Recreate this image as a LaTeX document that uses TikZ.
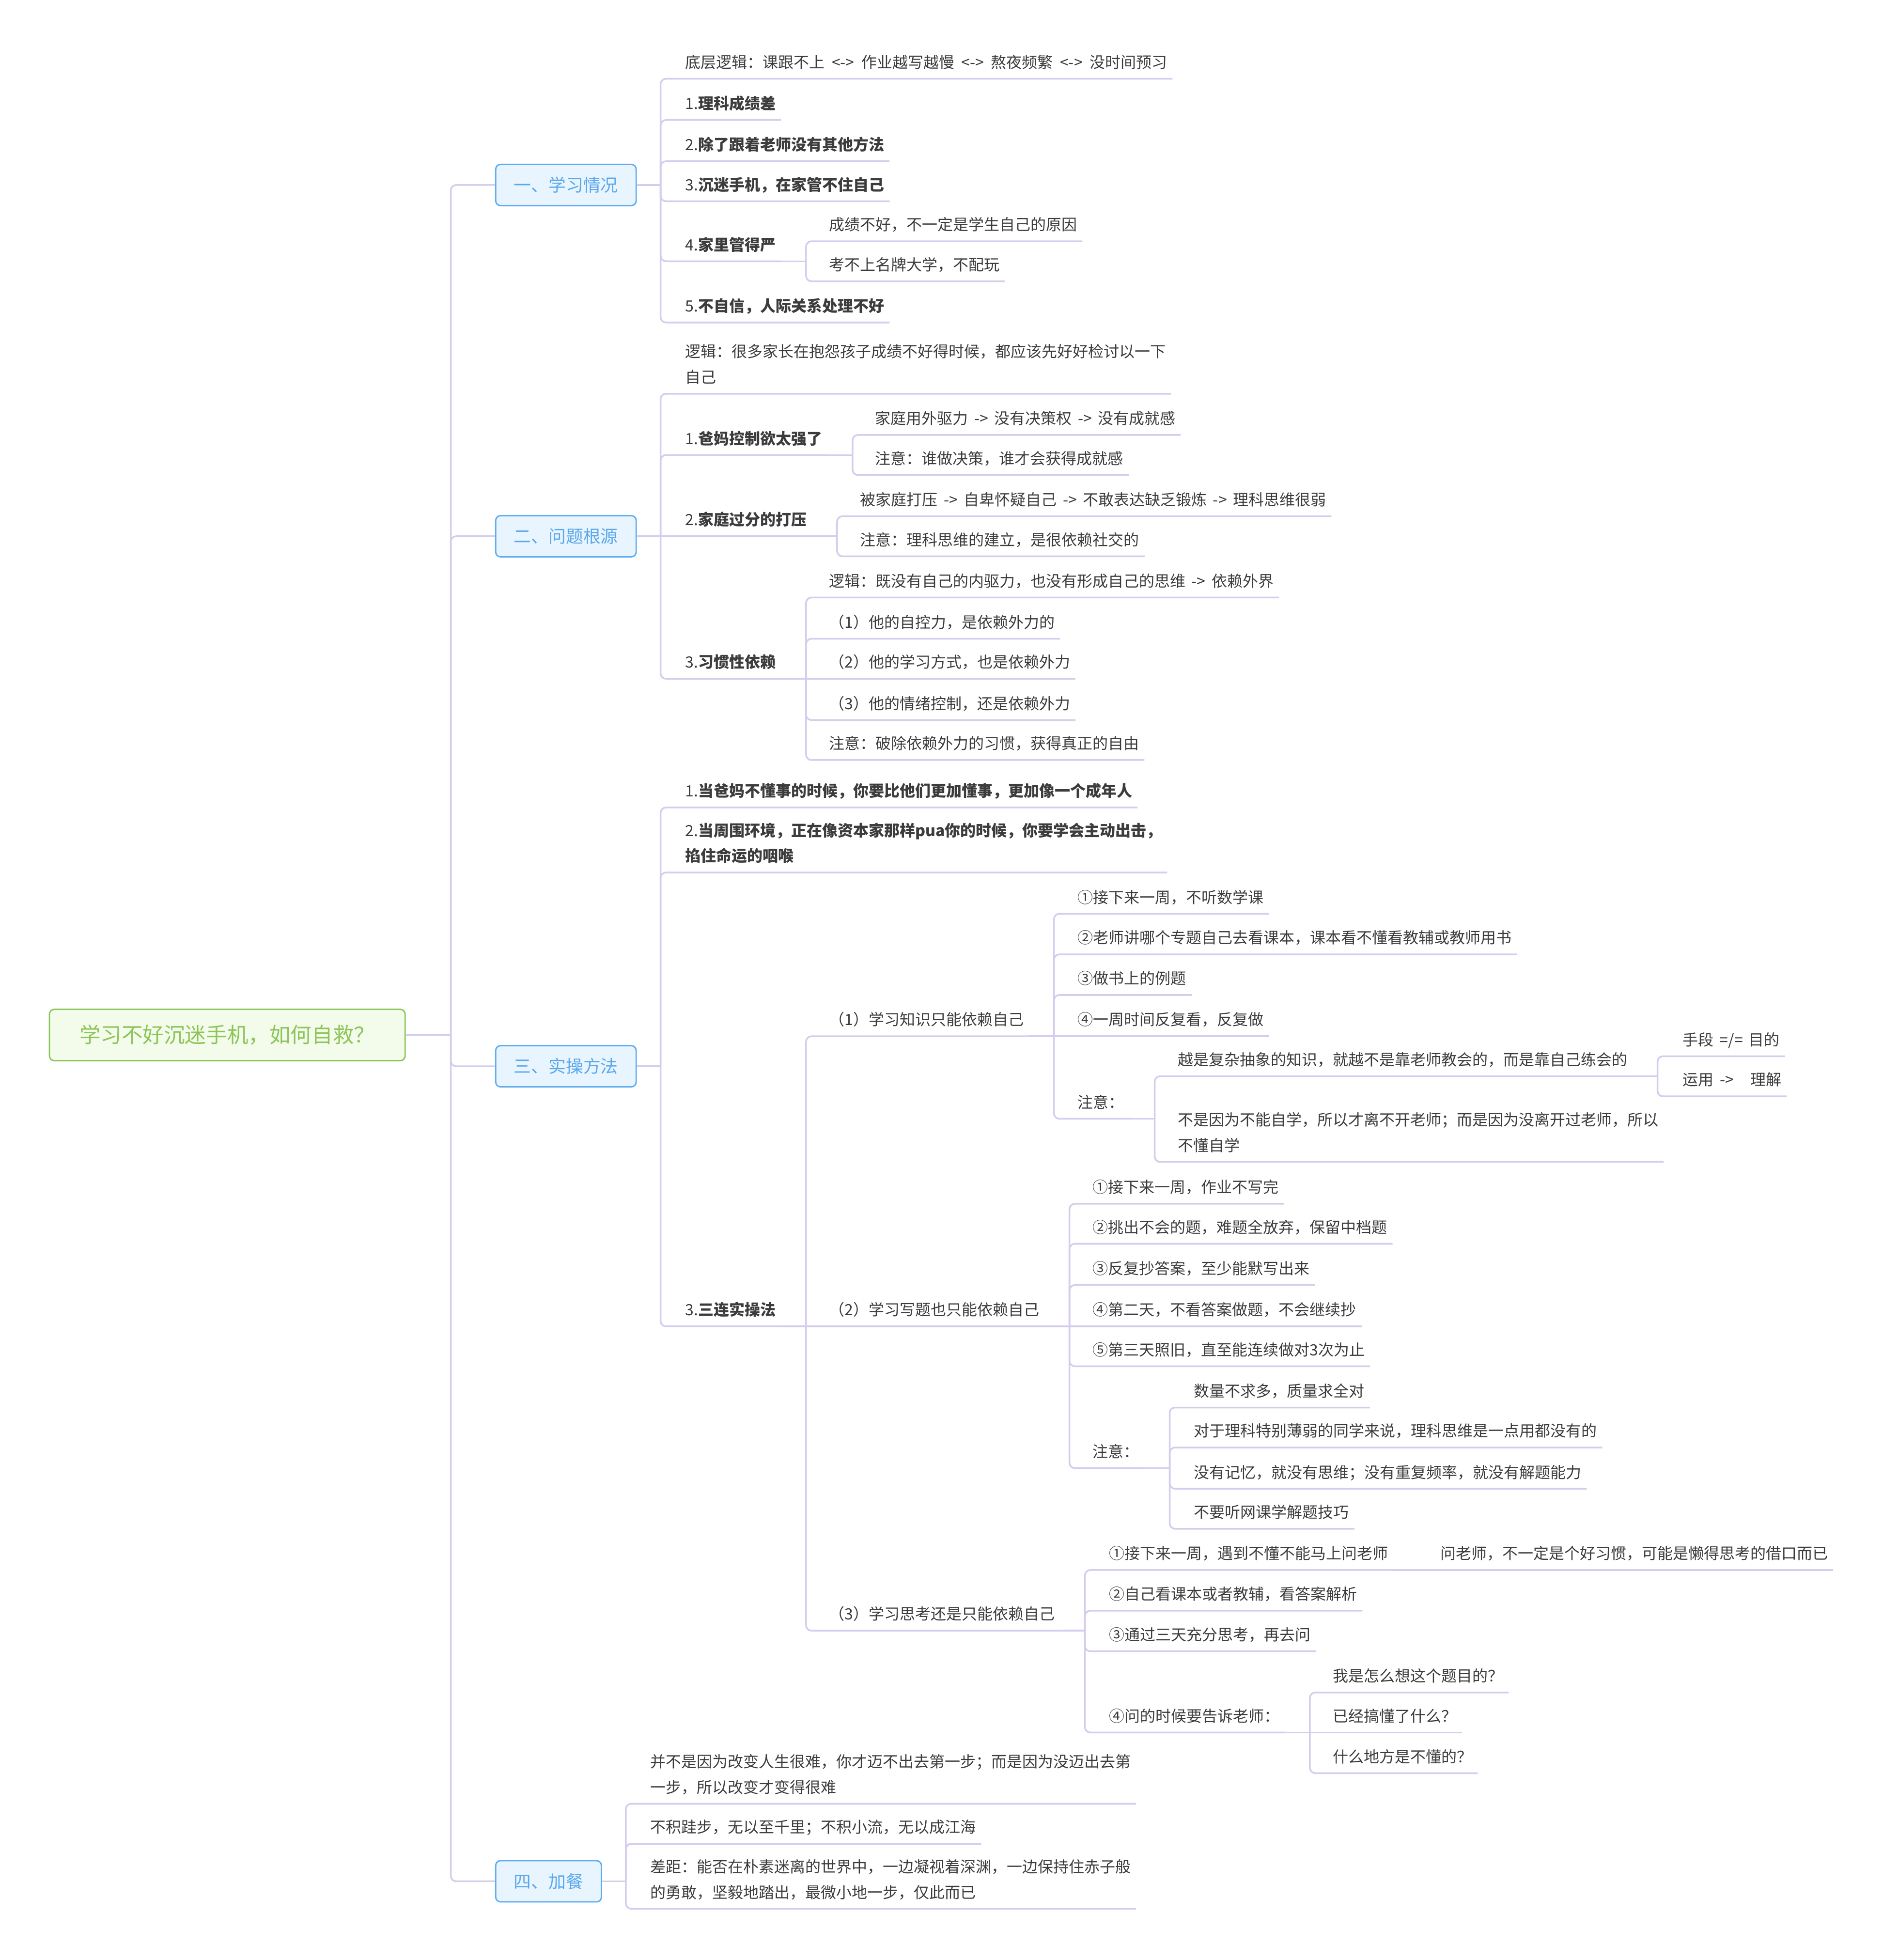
\documentclass[tikz,border=0pt]{standalone}
\usepackage{fontspec}
\setmainfont{Noto Sans CJK SC}
\definecolor{linkc}{HTML}{D6CDEE}
\definecolor{txt}{HTML}{3C3C3C}
\definecolor{secline}{HTML}{5FADF0}
\definecolor{secfill}{HTML}{E8F4FE}
\definecolor{sectxt}{HTML}{5BA8EC}
\definecolor{rootline}{HTML}{8DC55A}
\definecolor{rootfill}{HTML}{F3FBEA}
\newcommand{\rarr}{\hspace{1.25mm}->\hspace{1.25mm}}
\newcommand{\darr}{\hspace{1.45mm}<->\hspace{1.45mm}}

\begin{document}
\begin{tikzpicture}[x=0.258mm,y=-0.258mm,
  topic/.style={anchor=south west,inner xsep=1.03mm,inner ysep=2.15mm,text depth=0pt,align=left,text=txt,font=\fontsize{9.1}{15}\selectfont},
  sec/.style={anchor=west,draw=secline,fill=secfill,text=sectxt,rounded corners=1mm,line width=0.8pt,inner xsep=3.74mm,minimum height=8.5mm,font=\fontsize{10.2}{12}\selectfont},
  rootbox/.style={anchor=west,draw=rootline,fill=rootfill,text=rootline,rounded corners=1mm,line width=0.8pt,inner xsep=6.2mm,minimum height=10.6mm,font=\fontsize{12.4}{15}\selectfont},
  link/.style={draw=linkc,line width=1pt,rounded corners=1.1mm}]
\fill[white] (0,0) rectangle (1506,1568);
\useasboundingbox (0,0) rectangle (1506,1568);

\node[rootbox] (root) at (39,828) {学习不好沉迷手机，如何自救？};
\node[sec] (s1) at (396,148) {一、学习情况};
\node[sec] (s2) at (396,429) {二、问题根源};
\node[sec] (s3) at (396,853) {三、实操方法};
\node[sec] (s4) at (396,1505) {四、加餐};

\node[topic] (a0) at (544,63) {底层逻辑：课跟不上\darr 作业越写越慢\darr 熬夜频繁\darr 没时间预习};
\node[topic] (a1) at (544,96) {1.\textbf{理科成绩差}};
\node[topic] (a2) at (544,129) {2.\textbf{除了跟着老师没有其他方法}};
\node[topic] (a3) at (544,161) {3.\textbf{沉迷手机，在家管不住自己}};
\node[topic] (a4) at (544,209) {4.\textbf{家里管得严}};
\node[topic] (a4a) at (659,193) {成绩不好，不一定是学生自己的原因};
\node[topic] (a4b) at (659,225) {考不上名牌大学，不配玩};
\node[topic] (a5) at (544,258) {5.\textbf{不自信，人际关系处理不好}};

\node[topic] (b0) at (544,315) {逻辑：很多家长在抱怨孩子成绩不好得时候，都应该先好好检讨以一下\\自己};
\node[topic] (b1) at (544,364) {1.\textbf{爸妈控制欲太强了}};
\node[topic] (b1a) at (696,348) {家庭用外驱力\rarr 没有决策权\rarr 没有成就感};
\node[topic] (b1b) at (696,380) {注意：谁做决策，谁才会获得成就感};
\node[topic] (b2) at (544,429) {2.\textbf{家庭过分的打压}};
\node[topic] (b2a) at (684,413) {被家庭打压\rarr 自卑怀疑自己\rarr 不敢表达缺乏锻炼\rarr 理科思维很弱};
\node[topic] (b2b) at (684,445) {注意：理科思维的建立，是很依赖社交的};
\node[topic] (b3) at (544,543) {3.\textbf{习惯性依赖}};
\node[topic] (b3a) at (659,478) {逻辑：既没有自己的内驱力，也没有形成自己的思维\rarr 依赖外界};
\node[topic] (b3b) at (659,511) {（1）他的自控力，是依赖外力的};
\node[topic] (b3c) at (659,543) {（2）他的学习方式，也是依赖外力};
\node[topic] (b3d) at (659,576) {（3）他的情绪控制，还是依赖外力};
\node[topic] (b3e) at (659,608) {注意：破除依赖外力的习惯，获得真正的自由};

\node[topic] (c1) at (544,646) {1.\textbf{当爸妈不懂事的时候，你要比他们更加懂事，更加像一个成年人}};
\node[topic] (c2) at (544,698) {2.\textbf{当周围环境，正在像资本家那样pua你的时候，你要学会主动出击，}\\\textbf{掐住命运的咽喉}};
\node[topic] (c3) at (544,1061) {3.\textbf{三连实操法}};
\node[topic] (c3a) at (659,829) {（1）学习知识只能依赖自己};
\node[topic] (d1) at (858,731) {①接下来一周，不听数学课};
\node[topic] (d2) at (858,763.5) {②老师讲哪个专题自己去看课本，课本看不懂看教辅或教师用书};
\node[topic] (d3) at (858,796) {③做书上的例题};
\node[topic] (d4) at (858,829) {④一周时间反复看，反复做};
\node[topic] (d5) at (858,895) {注意：};
\node[topic] (d5a) at (938,861) {越是复杂抽象的知识，就越不是靠老师教会的，而是靠自己练会的};
\node[topic] (e1) at (1342,845) {手段\hspace{1.2mm}=/=\hspace{1.2mm}目的};
\node[topic] (e2) at (1342,877) {运用\rarr\hspace{2.2mm}理解};
\node[topic] (d5b) at (938,929.5) {不是因为不能自学，所以才离不开老师；而是因为没离开过老师，所以\\不懂自学};
\node[topic] (c3b) at (659,1061) {（2）学习写题也只能依赖自己};
\node[topic] (f1) at (870,963) {①接下来一周，作业不写完};
\node[topic] (f2) at (870,995) {②挑出不会的题，难题全放弃，保留中档题};
\node[topic] (f3) at (870,1028) {③反复抄答案，至少能默写出来};
\node[topic] (f4) at (870,1061) {④第二天，不看答案做题，不会继续抄};
\node[topic] (f5) at (870,1093) {⑤第三天照旧，直至能连续做对3次为止};
\node[topic] (f6) at (870,1174.5) {注意：};
\node[topic] (g1) at (951,1126) {数量不求多，质量求全对};
\node[topic] (g2) at (951,1158) {对于理科特别薄弱的同学来说，理科思维是一点用都没有的};
\node[topic] (g3) at (951,1191) {没有记忆，就没有思维；没有重复频率，就没有解题能力};
\node[topic] (g4) at (951,1223) {不要听网课学解题技巧};
\node[topic] (c3c) at (659,1304.5) {（3）学习思考还是只能依赖自己};
\node[topic] (h1) at (883,1256) {①接下来一周，遇到不懂不能马上问老师};
\node[topic] (h1a) at (1148,1256) {问老师，不一定是个好习惯，可能是懒得思考的借口而已};
\node[topic] (h2) at (883,1288.5) {②自己看课本或者教辅，看答案解析};
\node[topic] (h3) at (883,1321) {③通过三天充分思考，再去问};
\node[topic] (h4) at (883,1386) {④问的时候要告诉老师：};
\node[topic] (i1) at (1062,1354) {我是怎么想这个题目的？};
\node[topic] (i2) at (1062,1386) {已经搞懂了什么？};
\node[topic] (i3) at (1062,1418.5) {什么地方是不懂的？};

\node[topic] (j1) at (516,1443) {并不是因为改变人生很难，你才迈不出去第一步；而是因为没迈出去第\\一步，所以改变才变得很难};
\node[topic] (j2) at (516,1475) {不积跬步，无以至千里；不积小流，无以成江海};
\node[topic] (j3) at (516,1527) {差距：能否在朴素迷离的世界中，一边凝视着深渊，一边保持住赤子般\\的勇敢，坚毅地踏出，最微小地一步，仅此而已};

\draw[link] (root.east) -- ++(36,0) coordinate (sp);
\foreach \c in {s1,s2,s3,s4} \draw[link] (sp) |- (\c.west);

\draw[link] (s1.east) -- ++(19,0) coordinate (sp);
\foreach \c in {a0,a1,a2,a3,a4,a5} \draw[link] (sp) |- (\c.south east);
\draw[link] (a4.south east) -- ++(20,0) coordinate (sp);
\foreach \c in {a4a,a4b} \draw[link] (sp) |- (\c.south east);

\draw[link] (s2.east) -- ++(19,0) coordinate (sp);
\foreach \c in {b0,b1,b3} \draw[link] (sp) |- (\c.south east);
\draw[link] (sp) -- (b2.south east);
\draw[link] (b1.south east) -- ++(20,0) coordinate (sp);
\foreach \c in {b1a,b1b} \draw[link] (sp) |- (\c.south east);
\draw[link] (b2.south east) -- ++(20,0) coordinate (sp);
\foreach \c in {b2a,b2b} \draw[link] (sp) |- (\c.south east);
\draw[link] (b3.south east) -- ++(20,0) coordinate (sp);
\foreach \c in {b3a,b3b,b3d,b3e} \draw[link] (sp) |- (\c.south east);
\draw[link] (sp) -- (b3c.south east);

\draw[link] (s3.east) -- ++(19,0) coordinate (sp);
\foreach \c in {c1,c2,c3} \draw[link] (sp) |- (\c.south east);
\draw[link] (c3.south east) -- ++(20,0) coordinate (sp);
\foreach \c in {c3a,c3c} \draw[link] (sp) |- (\c.south east);
\draw[link] (sp) -- (c3b.south east);
\draw[link] (c3a.south east) -- ++(20,0) coordinate (sp);
\foreach \c in {d1,d2,d3,d5} \draw[link] (sp) |- (\c.south east);
\draw[link] (sp) -- (d4.south east);
\draw[link] (d5.south east) -- ++(20,0) coordinate (sp);
\foreach \c in {d5a,d5b} \draw[link] (sp) |- (\c.south east);
\draw[link] (d5a.south east) -- ++(20,0) coordinate (sp);
\foreach \c in {e1,e2} \draw[link] (sp) |- (\c.south east);
\draw[link] (c3b.south east) -- ++(20,0) coordinate (sp);
\foreach \c in {f1,f2,f3,f5,f6} \draw[link] (sp) |- (\c.south east);
\draw[link] (sp) -- (f4.south east);
\draw[link] (f6.south east) -- ++(20,0) coordinate (sp);
\foreach \c in {g1,g2,g3,g4} \draw[link] (sp) |- (\c.south east);
\draw[link] (c3c.south east) -- ++(20,0) coordinate (sp);
\foreach \c in {h1,h2,h3,h4} \draw[link] (sp) |- (\c.south east);
\draw[link] (h1.south east) -- (h1a.south east);
\draw[link] (h4.south east) -- ++(20,0) coordinate (sp);
\foreach \c in {i1,i3} \draw[link] (sp) |- (\c.south east);
\draw[link] (sp) -- (i2.south east);

\draw[link] (s4.east) -- ++(19,0) coordinate (sp);
\foreach \c in {j1,j2,j3} \draw[link] (sp) |- (\c.south east);
\end{tikzpicture}
\end{document}
